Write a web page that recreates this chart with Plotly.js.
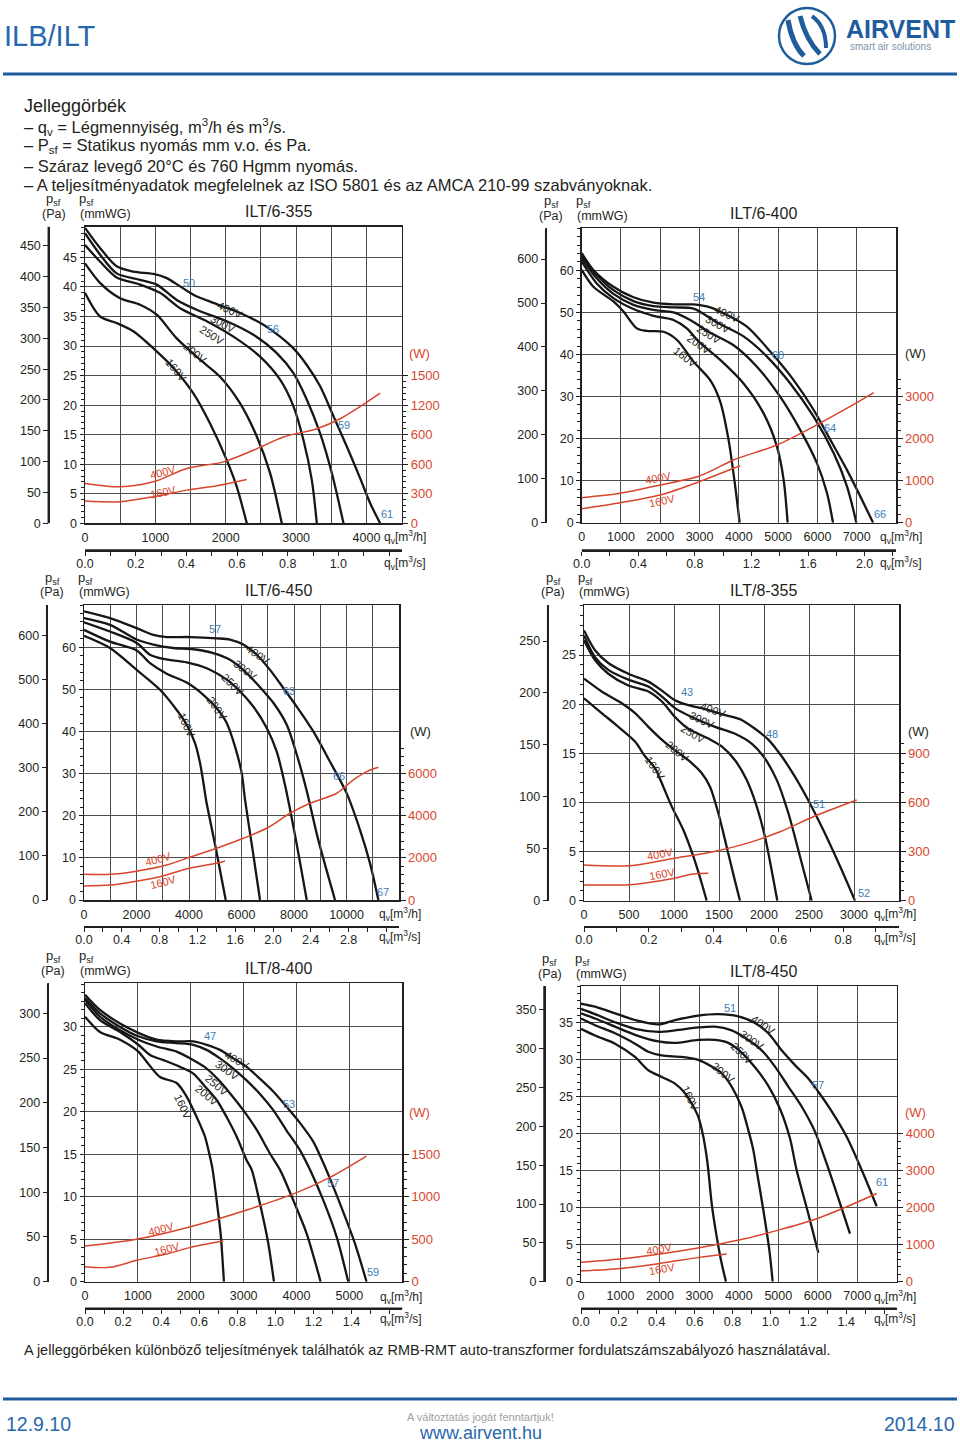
<!DOCTYPE html>
<html><head><meta charset="utf-8">
<script src="https://cdn.plot.ly/plotly-3.0.1.min.js"></script>
<style>html,body{margin:0;padding:0;background:#fff}#chart{width:960px;height:1443px}</style>
</head><body><div id="chart"></div>
<script>
// ===================== DATA =====================
const volts = ['400V','300V','250V','200V','160V'];
const redVolts = ['400V','160V'];

// ---- ILT/6-355 ----
const c1q400=[0,213,450,687,972,1161,1351,1540,1825,2204,2535,2772,2962,3151,3341,3531,3720,3910,4052,4194];
const c1p400=[50.0,46.6,43.5,42.6,42.2,41.5,40.1,38.7,37.3,35.6,33.6,31.6,29.6,26.8,23.2,18.1,13.0,7.6,3.4,0];
const c1q300=[0,213,450,782,1019,1303,1635,2014,2393,2725,2962,3152,3341,3507,3673];
const c1p300=[49.1,45.5,42.3,41.2,40.4,37.8,35.9,34.2,31.9,28.8,25.4,20.9,15.2,8.5,0];
const c1q250=[0,213,450,782,1066,1351,1730,2109,2488,2772,2962,3104,3223,3294];
const c1p250=[47.1,44.3,41.6,40.4,39.0,36.4,34.2,31.6,28.2,24.3,19.8,14.1,7.3,0];
const c1q200=[0,213,498,782,1019,1303,1635,1919,2204,2441,2630,2796];
const c1p200=[44.0,40.7,38.1,37.0,35.3,31.3,27.7,24.8,20.3,14.7,8.5,0];
const c1q160=[0,213,450,687,972,1256,1540,1777,2014,2156,2299];
const c1p160=[39.0,35.0,33.9,32.5,29.6,26.3,22.0,16.9,10.7,6.2,0];
const c1qW400=[0,498,972,1445,1967,2393,2820,3294,3626,4005,4194];
const c1W400=[405,371,421,556,624,742,876,961,1062,1230,1321];
const c1qW160=[0,498,972,1445,1872,2299];
const c1W160=[226,219,270,337,381,445];
const c1Noise=['50','56','59','61'];
const c1qT=[0,1000,2000,3000,4000], c1mmT=[0,5,10,15,20,25,30,35,40,45], c1paT=[0,50,100,150,200,250,300,350,400,450];
const c1wT=[0,300,600,900,1200,1500], c1wTxt=['0','300','600','600','1200','1500'], c1sT=[0,0.2,0.4,0.6,0.8,1.0];

// ---- ILT/6-400 ----
const c2q400=[0,297,807,1317,1827,2336,2846,3271,3696,4206,4800,5395,5905,6330,6754,7094,7417];
const c2p400=[64.1,60.1,56.1,53.6,52.3,51.9,51.9,51.2,49.4,46.6,40.7,33.9,26.8,19.7,12.5,6.2,0];
const c2q300=[0,382,807,1317,1827,2336,2846,3483,4120,4715,5310,5905,6415,6754,6992];
const c2p300=[63.4,58.9,55.3,52.7,51.5,51.2,50.9,47.4,44.3,39.5,33.1,25.2,16.5,8.6,0];
const c2q250=[0,382,807,1317,1827,2336,2761,3228,3866,4460,5055,5565,5990,6245,6397];
const c2p250=[62.9,58.1,54.4,51.8,50.6,50.0,48.2,45.4,42.2,37.1,29.9,22.0,14.1,7.0,0];
const c2q200=[0,382,807,1317,1827,2336,2676,2974,3526,4120,4630,4970,5140,5242];
const c2p200=[62.1,56.9,53.4,50.8,49.2,48.2,46.2,43.1,38.7,33.1,26.0,18.1,10.2,0];
const c2q160=[0,297,807,1062,1402,1657,2082,2421,2846,3271,3526,3738,3908,4019];
const c2p160=[60.1,56.1,52.6,50.2,46.2,45.6,45.4,43.5,38.3,33.9,28.8,19.7,8.6,0];
const c2qW400=[0,977,1997,2999,3866,4970,5905,6755,7434];
const c2W400=[595,698,897,1111,1492,1849,2286,2722,3095];
const c2qW160=[0,977,1997,2999,3866,4036];
const c2W160=[333,476,659,976,1294,1357];
const c2Noise=['54','60','64','66'];
const c2qT=[0,1000,2000,3000,4000,5000,6000,7000], c2mmT=[0,10,20,30,40,50,60], c2paT=[0,100,200,300,400,500,600];
const c2wT=[0,1000,2000,3000], c2sT=[0,0.4,0.8,1.2,1.6,2.0];

// ---- ILT/6-450 ----
const c3q400=[0,991,2008,2641,3151,4039,5056,5563,6069,6580,7087,7593,8104,8736,9373,10008,10516,10897,11214];
const c3p400=[68.5,66.9,64.5,62.9,62.4,62.4,62.1,61.8,60.6,58.2,54.6,50.3,45.9,40.0,32.8,25.3,16.6,8.7,0];
const c3q300=[0,991,2008,2641,3403,4165,4927,5563,6134,6706,7212,7723,8154,8500,8915,9563];
const c3p300=[66.9,65.3,61.8,60.6,59.8,59.5,58.6,57.0,54.2,50.5,46.8,41.6,33.5,25.5,14.5,0];
const c3q250=[0,991,2008,2515,3021,3913,4675,5437,5818,6450,6961,7342,7650,8050,8485];
const c3p250=[65.9,63.7,61.0,58.2,57.2,56.4,55.0,52.3,50.3,45.9,40.8,35.2,27.5,15.0,0];
const c3q200=[0,991,2008,2515,3151,3913,4546,5056,5437,5753,6008,6134,6420,6706];
const c3p200=[64.1,61.3,59.2,56.2,53.7,51.6,48.7,45.5,42.0,36.4,30.1,23.8,12.0,0];
const c3q160=[0,991,2008,2896,3532,3913,4229,4420,4572,4648,5030,5399];
const c3p160=[62.7,59.8,54.6,49.9,45.1,41.6,37.2,32.5,26.9,23.8,12.0,0];
const c3qW400=[0,991,1880,3150,4013,5055,6071,6960,7849,8611,9627,10262,10770,11214];
const c3W400=[1219,1219,1346,1662,2026,2454,2929,3404,4116,4591,5066,5699,6095,6300];
const c3qW160=[0,991,1880,2896,4013,5055,5372];
const c3W160=[665,712,871,1108,1504,1741,1852];
const c3Noise=['57','63','66','67'];
const c3qT=[0,2000,4000,6000,8000,10000], c3mmT=[0,10,20,30,40,50,60], c3paT=[0,100,200,300,400,500,600];
const c3wT=[0,2000,4000,6000], c3sT=[0,0.4,0.8,1.2,1.6,2.0,2.4,2.8];

// ---- ILT/8-355 ----
const c4q400=[0,122,270,493,715,863,1011,1159,1307,1567,1752,1900,2048,2196,2345,2493,2659,2845,3011];
const c4p400=[27.5,25.5,24.2,23.1,22.3,21.4,20.4,19.9,19.6,18.9,18.4,17.5,16.4,14.7,12.6,10.2,7.2,3.5,0];
const c4q300=[0,122,270,493,715,863,1011,1196,1456,1678,1863,1993,2141,2271,2400,2530];
const c4p300=[27.0,24.8,23.5,22.5,21.8,20.8,19.6,18.7,17.7,17.0,16.0,14.7,12.3,8.9,4.5,0];
const c4q250=[0,122,270,493,715,863,1011,1159,1382,1530,1678,1807,1919,2011,2085,2148];
const c4p250=[26.5,24.5,23.1,21.9,21.3,20.3,18.7,17.5,16.5,15.7,14.3,12.3,9.6,6.5,3.1,0];
const c4q200=[0,196,419,567,715,863,1011,1159,1307,1400,1493,1585,1667,1733];
const c4p200=[22.6,21.3,20.1,19.1,17.7,16.4,15.3,14.3,13.0,11.6,8.9,5.5,2.4,0];
const c4q160=[0,196,382,567,678,789,881,974,1104,1215,1307,1363];
const c4p160=[20.6,19.1,17.7,16.2,14.7,13.5,11.6,9.6,7.2,4.5,1.8,0];
const c4qW400=[0,511,993,1437,1808,2178,2548,3030];
const c4W400=[218,214,258,299,350,421,513,615];
const c4qW160=[0,511,770,993,1215,1382];
const c4W160=[96,98,116,136,163,167];
const c4Noise=['43','48','51','52'];
const c4qT=[0,500,1000,1500,2000,2500,3000], c4mmT=[0,5,10,15,20,25], c4paT=[0,50,100,150,200,250];
const c4wT=[0,300,600,900], c4sT=[0,0.2,0.4,0.6,0.8];

// ---- ILT/8-400 ----
const c5q400=[0,284,662,1008,1355,1733,2048,2300,2552,2804,3056,3308,3560,3812,4064,4316,4505,4694,4915,5104,5324];
const c5p400=[33.8,32.0,30.4,29.3,28.5,28.3,28.3,27.9,27.3,26.3,25.3,23.9,22.4,20.6,18.7,16.5,14.0,11.2,7.7,4.5,0];
const c5q300=[0,284,662,1008,1355,1733,2048,2300,2552,2804,3056,3308,3560,3812,4064,4253,4505,4757,4978];
const c5p300=[33.4,31.6,30.0,28.9,28.3,28.1,27.9,27.3,26.3,25.1,23.7,22.1,20.2,17.8,15.5,13.2,9.6,5.3,0];
const c5q250=[0,284,662,1008,1355,1733,1985,2300,2520,2741,2993,3245,3497,3686,3938,4190,4455];
const c5p250=[33.2,31.2,29.6,28.5,27.7,27.1,26.3,25.1,23.8,22.2,20.2,17.9,15.1,13.2,9.6,5.7,0];
const c5q200=[0,284,662,1008,1229,1481,1796,2048,2268,2489,2678,2867,3056,3151,3308,3466,3573];
const c5p200=[32.8,30.8,29.4,27.9,26.7,26.1,25.3,24.5,23.0,21.4,19.4,17.1,14.3,13.2,9.2,4.5,0];
const c5q160=[0,284,662,1008,1166,1418,1733,1922,2111,2268,2363,2413,2489,2564,2627];
const c5p160=[31.2,29.4,28.5,27.1,25.9,24.1,23.4,21.8,19.4,17.1,14.7,13.2,9.6,5.7,0];
const c5qW400=[0,996,1997,2999,4001,4631,5324];
const c5W400=[420,503,648,833,1049,1229,1480];
const c5qW160=[0,473,996,1544,1997,2615];
const c5W160=[177,169,255,326,404,479];
const c5Noise=['47','53','57','59'];
const c5qT=[0,1000,2000,3000,4000,5000], c5mmT=[0,5,10,15,20,25,30], c5paT=[0,50,100,150,200,250,300];
const c5wT=[0,500,1000,1500], c5sT=[0,0.2,0.4,0.6,0.8,1.0,1.2,1.4];

// ---- ILT/8-450 ----
const c6q400=[0,355,862,1368,1959,2382,2973,3480,3986,4409,4747,5084,5422,5760,6014,6309,6732,7154,7492];
const c6p400=[37.6,37.2,36.3,35.4,34.8,35.4,36.0,36.2,35.9,35.0,33.6,31.3,29.3,27.5,25.7,23.4,19.6,14.6,10.2];
const c6q300=[0,355,862,1368,1959,2382,2973,3395,3818,4155,4578,4916,5253,5591,5929,6224,6520,6816];
const c6p300=[36.9,36.2,35.1,34.2,33.8,34.0,34.4,34.5,34.0,33.0,31.3,29.1,26.4,23.7,20.3,16.0,11.3,6.5];
const c6q250=[0,355,862,1368,1959,2382,2973,3395,3733,4071,4409,4747,5042,5295,5464,5760,6014];
const c6p250=[36.3,35.6,34.5,33.4,32.5,32.3,32.7,32.7,32.3,31.0,29.0,26.5,23.4,19.4,15.1,9.2,3.9];
const c6q200=[0,355,862,1368,1706,2044,2551,2973,3311,3564,3818,4071,4240,4367,4451,4620,4772,4857];
const c6p200=[35.6,34.7,33.6,32.2,31.1,30.6,30.4,30.0,29.1,28.2,26.4,23.6,20.5,17.8,15.1,9.7,4.3,0];
const c6q160=[0,355,862,1368,1706,2044,2382,2635,2804,2973,3100,3184,3226,3311,3438,3564,3674];
const c6p160=[34.2,33.3,32.2,30.4,28.6,27.7,26.8,25.5,24.1,22.3,19.6,16.9,15.1,10.6,6.1,2.5,0];
const c6qW400=[0,997,2002,2998,4003,5000,5996,6732,7492];
const c6W400=[523,613,748,919,1126,1396,1712,2027,2387];
const c6qW160=[0,997,2002,2998,3691];
const c6W160=[288,360,495,658,748];
const c6Noise=['51','57','61'];
const c6qT=[0,1000,2000,3000,4000,5000,6000,7000], c6mmT=[0,5,10,15,20,25,30,35], c6paT=[0,50,100,150,200,250,300,350];
const c6wT=[0,1000,2000,3000,4000], c6sT=[0,0.2,0.4,0.6,0.8,1.0,1.2,1.4];

// ===================== LAYOUT =====================
const W=960, H=1443;
const INK='#231f20', RED='#d8452b', BLUE='#3f7db5', GRID='#4d4d4d', HB='#1f5c9e', HB2='#2867ad';
const FONT='"Liberation Sans", Arial, Helvetica, sans-serif';

const charts=[
 {title:'ILT/6-355',L:85,R:401.7,T:226.7,B:523.3,xmax:4500,ymax:50.2,gridX:500,mmMinor:1,paX:48.3,paMax:481,wPerMM:60,wTop:1550,wMinor:60,sY:550,sMax:1.25,sMinor:0.1,
  qT:c1qT,mmT:c1mmT,paT:c1paT,wT:c1wT,wTxt:c1wTxt,sT:c1sT,
  curves:[[c1q400,c1p400],[c1q300,c1p300],[c1q250,c1p250],[c1q200,c1p200],[c1q160,c1p160]],
  red:[[c1qW400,c1W400],[c1qW160,c1W160]],noise:c1Noise,
  noisePos:[[1483,40.7],[2668,32.9],[3673,16.7],[4298,1.5]],
  voltPos:[[2061,36.1,25],[1967,33.8,28],[1801,31.9,33],[1564,28.8,40],[1294,25.9,50]],
  redPos:[[1114,516,-15],[1114,320,-12]],
  titleX:278,wLbl:[419,353,true],qX:382,qhY:537,qsY:563},
 {title:'ILT/6-400',L:581.7,R:896,T:228.3,B:522.7,xmax:8000,ymax:70,gridX:1000,mmMinor:2,paX:545.7,paMax:670,wPerMM:100,wTop:3400,wMinor:200,sY:550,sMax:8000/3600,sMinor:0.2,
  qT:c2qT,mmT:c2mmT,paT:c2paT,wT:c2wT,sT:c2sT,
  curves:[[c2q400,c2p400],[c2q300,c2p300],[c2q250,c2p250],[c2q200,c2p200],[c2q160,c2p160]],
  red:[[c2qW400,c2W400],[c2qW160,c2W160]],noise:c2Noise,
  noisePos:[[2974,53.6],[4996,39.9],[6313,22.4],[7604,2.1]],
  voltPos:[[3696,49.6,25],[3458,47.3,28],[3228,44.9,32],[2974,42.5,35],[2634,39.3,38]],
  redPos:[[1937,1071,-12],[2039,516,-12]],
  titleX:763,wLbl:[915,353,false],qX:878,qhY:537,qsY:563},
 {title:'ILT/6-450',L:84,R:399,T:605,B:900,xmax:12000,ymax:70,gridX:1000,mmMinor:2,paX:46.7,paMax:670,wPerMM:200,wTop:7500,wMinor:400,sY:926.7,sMax:12000/3600,sMinor:0.2,
  qT:c3qT,mmT:c3mmT,paT:c3paT,wT:c3wT,sT:c3sT,
  curves:[[c3q400,c3p400],[c3q300,c3p300],[c3q250,c3p250],[c3q200,c3p200],[c3q160,c3p160]],
  red:[[c3qW400,c3W400],[c3qW160,c3W160]],noise:c3Noise,
  noisePos:[[4991,64.3],[7798,49.6],[9727,29.5],[11404,2.0]],
  voltPos:[[6641,58.2,35],[6134,54.5,38],[5689,51.1,45],[5056,45.5,55],[3913,41.6,65]],
  redPos:[[2832,1931,-15],[3023,871,-15]],
  titleX:278,wLbl:[420,731,false],qX:377,qhY:914,qsY:937},
 {title:'ILT/8-355',L:584,R:899,T:605,B:900.7,xmax:3500,ymax:30.1,gridX:500,mmMinor:1,paX:547.7,paMax:284.7,wPerMM:60,wTop:1000,wMinor:60,sY:926.7,sMax:3500/3600,sMinor:0.1,
  qT:c4qT,mmT:c4mmT,paT:c4paT,wT:c4wT,sT:c4sT,
  curves:[[c4q400,c4p400],[c4q300,c4p300],[c4q250,c4p250],[c4q200,c4p200],[c4q160,c4p160]],
  red:[[c4qW400,c4W400],[c4qW160,c4W160]],noise:c4Noise,
  noisePos:[[1148,21.2],[2089,17.0],[2615,9.8],[3111,0.75]],
  voltPos:[[1437,19.4,20],[1307,18.4,25],[1215,17.0,30],[1030,15.2,40],[789,13.5,55]],
  redPos:[[845,283,-10],[863,165,-10]],
  titleX:763,wLbl:[918,731,false],qX:872,qhY:914,qsY:938},
 {title:'ILT/8-400',L:85,R:402.3,T:983.3,B:1281.7,xmax:6000,ymax:35.14,gridX:1000,mmMinor:1,paX:47.7,paMax:333.6,wPerMM:100,wTop:1560,wMinor:100,sY:1308.3,sMax:6000/3600,sMinor:0.1,
  qT:c5qT,mmT:c5mmT,paT:c5paT,wT:c5wT,sT:c5sT,
  curves:[[c5q400,c5p400],[c5q300,c5p300],[c5q250,c5p250],[c5q200,c5p200],[c5q160,c5p160]],
  red:[[c5qW400,c5W400],[c5qW160,c5W160]],noise:c5Noise,
  noisePos:[[2363,28.9],[3862,20.9],[4694,11.6],[5450,1.2]],
  voltPos:[[2867,26.1,30],[2678,24.9,35],[2489,23.2,40],[2300,22.0,40],[1859,20.6,65]],
  redPos:[[1437,617,-15],[1544,381,-15]],
  titleX:278,wLbl:[419,1112,true],qX:378,qhY:1297,qsY:1319},
 {title:'ILT/8-450',L:581,R:896.7,T:986,B:1281.7,xmax:8000,ymax:40,gridX:1000,mmMinor:1,paX:544,paMax:380.9,wPerMM:200,wTop:4100,wMinor:200,sY:1308.3,sMax:6000/3600,sMinor:0.1,
  qT:c6qT,mmT:c6mmT,paT:c6paT,wT:c6wT,sT:c6sT,
  curves:[[c6q400,c6p400],[c6q300,c6p300],[c6q250,c6p250],[c6q200,c6p200],[c6q160,c6p160]],
  red:[[c6qW400,c6W400],[c6qW160,c6W160]],noise:c6Noise,
  noisePos:[[3775,37.0],[6014,26.6],[7618,13.5]],
  voltPos:[[4620,34.7,35],[4324,32.7,35],[4071,30.9,45],[3606,28.2,40],[2762,24.8,65]],
  redPos:[[1985,883,-10],[2044,333,-10]],
  titleX:763,wLbl:[915,1112,true],qX:872,qhY:1297,qsY:1319}
];

const layout={width:W,height:H,margin:{l:0,r:0,t:0,b:0,pad:0},paper_bgcolor:'#ffffff',plot_bgcolor:'rgba(0,0,0,0)',
  showlegend:false,font:{family:FONT,color:INK,size:12.5},annotations:[],shapes:[]};
const data=[];

function A(text,x,y,o){
  o=o||{};
  const f=Object.assign({family:FONT,size:12.5,color:INK},o.font||{});
  const a=Object.assign({xref:'paper',yref:'paper',x:x/W,y:1-y/H,text:text,showarrow:false,xanchor:'left',yanchor:'middle'},o);
  a.font=f; layout.annotations.push(a);
}
function Lpx(x0,y0,x1,y1,color,width){
  layout.shapes.push({type:'line',xref:'paper',yref:'paper',x0:x0/W,x1:x1/W,y0:1-y0/H,y1:1-y1/H,line:{color:color,width:width}});
}
const xn=n=>n===1?'xaxis':'xaxis'+n, yn=n=>n===1?'yaxis':'yaxis'+n;
const xr=n=>n===1?'x':'x'+n, yr=n=>n===1?'y':'y'+n;

charts.forEach((c,i)=>{
  const k=i+1, xm=2*k-1, xs=2*k, ym=3*k-2, yp=3*k-1, yw=3*k;
  const dx=[c.L/W,c.R/W], dy=[1-c.B/H,1-c.T/H];
  const pxmm=(c.B-c.T)/c.ymax;
  const wTopPx=c.wTop/c.wPerMM*pxmm;
  layout[xn(xm)]={domain:dx,anchor:yr(ym),range:[0,c.xmax],showline:true,mirror:true,linecolor:INK,linewidth:1.5,
    tickmode:'array',tickvals:c.qT,ticktext:c.qT.map(String),ticks:'',showgrid:true,gridcolor:GRID,gridwidth:1,zeroline:false,
    minor:{tickmode:'linear',tick0:0,dtick:c.gridX,showgrid:true,gridcolor:GRID,gridwidth:1},
    tickfont:{size:12.5,color:INK},ticklabelstandoff:2,fixedrange:true};
  layout[xn(xs)]={overlaying:xr(xm),anchor:'free',position:1-c.sY/H,side:'bottom',range:[0,c.sMax],showline:true,linecolor:INK,linewidth:1.5,
    ticks:'outside',ticklen:4,tickcolor:INK,tickmode:'array',tickvals:c.sT,ticktext:c.sT.map(v=>v.toFixed(1)),
    minor:{tickmode:'linear',tick0:0,dtick:c.sMinor,ticks:'outside',ticklen:4,tickcolor:INK},
    showgrid:false,zeroline:false,tickfont:{size:12.5,color:INK},ticklabelstandoff:-3,fixedrange:true};
  layout[yn(ym)]={domain:dy,anchor:xr(xm),range:[0,c.ymax],showline:true,mirror:true,linecolor:INK,linewidth:1.5,
    tickmode:'array',tickvals:c.mmT,ticks:'outside',ticklen:4,tickcolor:INK,showgrid:true,gridcolor:GRID,gridwidth:1,zeroline:false,
    minor:{tickmode:'linear',tick0:0,dtick:c.mmMinor,ticks:'outside',ticklen:3,tickcolor:INK},
    tickfont:{size:12.5,color:INK},fixedrange:true};
  layout[yn(yp)]={overlaying:yr(ym),anchor:'free',position:c.paX/W,side:'left',range:[0,c.paMax],showline:true,linecolor:INK,linewidth:1.5,
    ticks:'outside',ticklen:5,tickcolor:INK,tickmode:'array',tickvals:c.paT,showgrid:false,zeroline:false,
    tickfont:{size:12.5,color:INK},fixedrange:true};
  layout[yn(yw)]={domain:[dy[0],dy[0]+wTopPx/H],anchor:'free',position:c.R/W,side:'right',range:[0,c.wTop],showline:true,linecolor:INK,linewidth:1.5,
    ticks:'outside',ticklen:5,tickcolor:INK,tickmode:'array',tickvals:c.wT,ticktext:(c.wTxt||c.wT.map(String)),
    minor:{tickmode:'linear',tick0:0,dtick:c.wMinor,ticks:'outside',ticklen:3,tickcolor:INK},
    showgrid:false,zeroline:false,tickfont:{size:13,color:RED},fixedrange:true};

  // axis lines of the secondary scales (Pa and m3/s)
  Lpx(c.paX,c.T,c.paX,c.B,INK,1.5);
  Lpx(c.L,c.sY,c.R,c.sY,INK,1.5);

  // empty traces so that the secondary (Pa and m3/s) axes get drawn
  data.push({type:'scatter',mode:'lines',x:[],y:[],xaxis:xr(xm),yaxis:yr(yp),hoverinfo:'skip'});
  data.push({type:'scatter',mode:'lines',x:[],y:[],xaxis:xr(xs),yaxis:yr(ym),hoverinfo:'skip'});

  c.curves.forEach(([q,p])=>data.push({type:'scatter',mode:'lines',x:q,y:p,xaxis:xr(xm),yaxis:yr(ym),
    line:{color:'#161616',width:2.3,shape:'spline',smoothing:0.8},hoverinfo:'skip'}));
  c.red.forEach(([q,w])=>data.push({type:'scatter',mode:'lines',x:q,y:w,xaxis:xr(xm),yaxis:yr(yw),
    line:{color:RED,width:1.5,shape:'spline',smoothing:0.8},hoverinfo:'skip'}));

  c.noise.forEach((t,j)=>layout.annotations.push({xref:xr(xm),yref:yr(ym),x:c.noisePos[j][0],y:c.noisePos[j][1],text:t,showarrow:false,
    font:{family:FONT,size:11,color:BLUE}}));
  volts.forEach((t,j)=>layout.annotations.push({xref:xr(xm),yref:yr(ym),x:c.voltPos[j][0],y:c.voltPos[j][1],text:t,showarrow:false,
    textangle:c.voltPos[j][2],font:{family:FONT,size:11,color:INK}}));
  redVolts.forEach((t,j)=>layout.annotations.push({xref:xr(xm),yref:yr(yw),x:c.redPos[j][0],y:c.redPos[j][1],text:t,showarrow:false,
    textangle:c.redPos[j][2],font:{family:FONT,size:11,color:RED}}));

  // axis captions
  A('p<sub>sf</sub>',c.paX-4,c.T-27,{font:{size:13}});
  A('(Pa)',c.paX-8.5,c.T-12.5,{font:{size:12.5}});
  A('p<sub>sf</sub>',c.L-8,c.T-27,{font:{size:13}});
  A('(mmWG)',c.L-7,c.T-12.5,{font:{size:12.5}});
  A(c.title,c.titleX,c.T-15,{xanchor:'center',font:{size:16}});
  A('(W)',c.wLbl[0],c.wLbl[1],{xanchor:'center',font:{size:13,color:c.wLbl[2]?RED:INK}});
  A('q<sub>v</sub>[m<sup>3</sup>/h]',c.qX,c.qhY,{font:{size:12}});
  A('q<sub>v</sub>[m<sup>3</sup>/s]',c.qX,c.qsY,{font:{size:12}});
});

// ---- header ----
A('ILB/ILT',2,36,{font:{size:29,color:HB2}});
A('<b>AIRVENT</b>',844,29,{font:{size:25,color:HB}});
A('smart air solutions',848,47,{font:{size:10,color:'#7d93ad'}});
const P=(x,y)=>(x/W).toFixed(5)+','+(1-y/H).toFixed(5);
layout.shapes.push({type:'circle',xref:'paper',yref:'paper',x0:779/W,x1:835/W,y0:1-64/H,y1:1-8/H,line:{color:HB,width:2.5}});
layout.shapes.push({type:'path',xref:'paper',yref:'paper',path:'M'+P(788,20)+' Q'+P(792,44)+' '+P(804,56),line:{color:HB,width:5}});
layout.shapes.push({type:'path',xref:'paper',yref:'paper',path:'M'+P(800,16)+' Q'+P(806,40)+' '+P(820,54),line:{color:HB,width:5}});
layout.shapes.push({type:'path',xref:'paper',yref:'paper',path:'M'+P(812,16)+' Q'+P(826,26)+' '+P(826,48),line:{color:HB,width:4}});
Lpx(3,74,957,74,HB,3);

A('Jelleggörbék',22,106,{font:{size:18}});
A('– q<sub>v</sub> = Légmennyiség, m<sup>3</sup>/h és m<sup>3</sup>/s.',22,127,{font:{size:16.5}});
A('– P<sub>sf</sub> = Statikus nyomás mm v.o. és Pa.',22,146,{font:{size:16.5}});
A('– Száraz levegő 20°C és 760 Hgmm nyomás.',22,166,{font:{size:16.5}});
A('– A teljesítményadatok megfelelnek az ISO 5801 és az AMCA 210-99 szabványoknak.',22,185,{font:{size:16.5}});

// ---- footer ----
A('A jelleggörbéken különböző teljesítmények találhatók az RMB-RMT auto-transzformer fordulatszámszabályozó használatával.',22,1350,{font:{size:14.5}});
Lpx(3,1399,957,1399,HB,3);
A('12.9.10',4,1424,{font:{size:19.5,color:HB2}});
A('2014.10',957,1424,{xanchor:'right',font:{size:19.5,color:HB2}});
A('A változtatás jogát fenntartjuk!',480,1417,{xanchor:'center',font:{size:11,color:'#a0a0a0'}});
A('www.airvent.hu',480,1433,{xanchor:'center',font:{size:18,color:HB2}});

Plotly.newPlot('chart',data,layout,{staticPlot:true,displayModeBar:false});
</script>
</body></html>
